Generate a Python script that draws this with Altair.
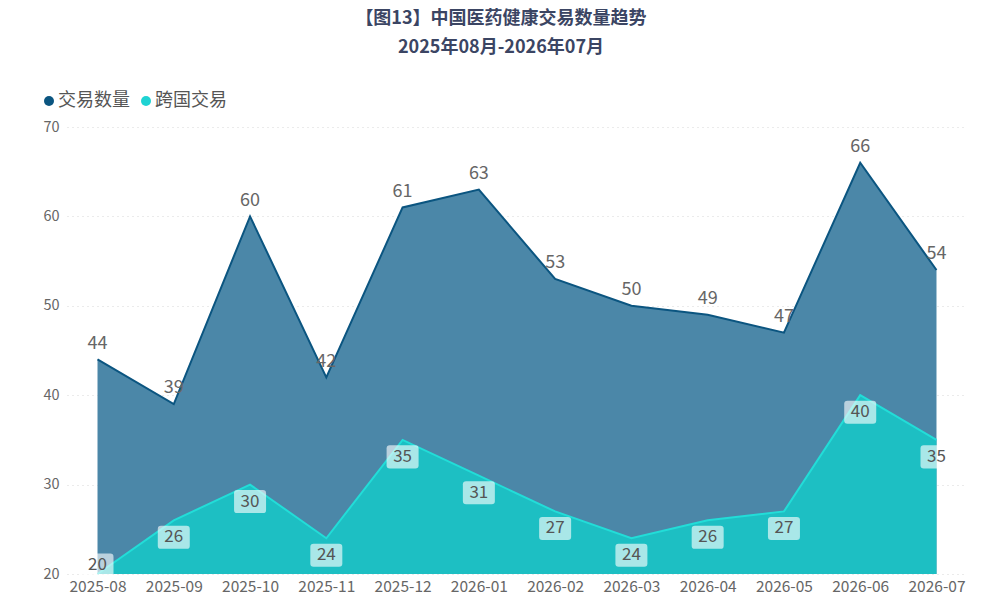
import altair as alt
import pandas as pd

months = ["2025-08", "2025-09", "2025-10", "2025-11", "2025-12", "2026-01",
          "2026-02", "2026-03", "2026-04", "2026-05", "2026-06", "2026-07"]
deals = [44, 39, 60, 42, 61, 63, 53, 50, 49, 47, 66, 54]
cross = [20, 26, 30, 24, 35, 31, 27, 24, 26, 27, 40, 35]
series_names = ["交易数量", "跨国交易"]
y_ticks = [20, 30, 40, 50, 60, 70]

df = pd.DataFrame({"month": months, "交易数量": deals, "跨国交易": cross})

FONT = "Noto Sans CJK SC"

x = alt.X("month:N", sort=months,
          scale=alt.Scale(type="point", padding=0.4),
          axis=alt.Axis(title=None, labelAngle=0, ticks=False, domain=False,
                        labelFontSize=15.5, labelColor="#666666", labelPadding=5,
                        labelFont=FONT, grid=False))
yscale = alt.Scale(domain=[20, 70], nice=False, zero=False)
yaxis = alt.Axis(title=None, values=y_ticks, ticks=False, domain=False,
                 labelFontSize=14.5, labelColor="#666666", labelPadding=8,
                 labelFont=FONT, grid=True, gridColor="#d6d6d6",
                 gridDash=[1, 4], gridWidth=1)

base = alt.Chart(df)

area_main = base.mark_area(color="#4b87a8", opacity=1).encode(
    x=x, y=alt.Y("交易数量:Q", scale=yscale, axis=yaxis), y2=alt.datum(20))
area_cross = base.mark_area(color="#1dbfc3", opacity=1).encode(
    x=x, y=alt.Y("跨国交易:Q", scale=yscale), y2=alt.datum(20))
line_main = base.mark_line(color="#0b5580", strokeWidth=2).encode(
    x=x, y=alt.Y("交易数量:Q", scale=yscale))
line_cross = base.mark_line(color="#22ddd8", strokeWidth=2).encode(
    x=x, y=alt.Y("跨国交易:Q", scale=yscale))

legend_layer = base.transform_fold(series_names, as_=["series", "val"]).mark_circle(
    size=0).encode(
    x=x, y=alt.Y("val:Q", scale=yscale),
    color=alt.Color("series:N", sort=series_names,
                    scale=alt.Scale(domain=series_names, range=["#0b5580", "#1fd3d3"]),
                    legend=alt.Legend(title=None, orient="none", legendX=-27, legendY=-35,
                                      direction="horizontal", symbolType="circle",
                                      symbolSize=100, labelFontSize=18,
                                      labelColor="#555555", labelFont=FONT,
                                      columnPadding=7, labelOffset=0, symbolOpacity=1)))

main_labels = base.transform_calculate(ly="datum['交易数量'] + 1.75").mark_text(
    fontSize=18, color="#666666", font=FONT, baseline="middle").encode(
    x=x, y=alt.Y("ly:Q", scale=yscale), text=alt.Text("交易数量:Q"))

box_path = ("M-0.8,-0.72 L0.8,-0.72 Q1,-0.72 1,-0.52 L1,0.52 Q1,0.72 0.8,0.72 "
            "L-0.8,0.72 Q-1,0.72 -1,0.52 L-1,-0.52 Q-1,-0.72 -0.8,-0.72 Z")
cross_boxes = base.transform_calculate(ly="max(datum['跨国交易'] - 1.9, 21)").mark_point(
    shape=box_path, size=1024, filled=True, fill="#ffffff", opacity=0.62,
    strokeWidth=0).encode(x=x, y=alt.Y("ly:Q", scale=yscale))
cross_labels = base.transform_calculate(ly="max(datum['跨国交易'] - 1.9, 21)").mark_text(
    fontSize=17, color="#555555", font=FONT, baseline="middle").encode(
    x=x, y=alt.Y("ly:Q", scale=yscale), text=alt.Text("跨国交易:Q"))

chart = alt.layer(area_main, area_cross, line_main, line_cross, legend_layer,
                  main_labels, cross_boxes, cross_labels).properties(
    width=900, height=447,
    autosize=alt.AutoSizeParams(type="none"),
    padding={"left": 59, "top": 119, "right": 32, "bottom": 24},
    title=alt.TitleParams(text=["【图13】中国医药健康交易数量趋势", "2025年08月-2026年07月"],
                          anchor="middle", frame="group", dx=-16, offset=35,
                          fontSize=18, fontWeight="bold", color="#3b4563",
                          font=FONT, lineHeight=29),
).configure_view(stroke=None)

chart.save("out.html", embed_options={"renderer": "svg", "actions": False})
